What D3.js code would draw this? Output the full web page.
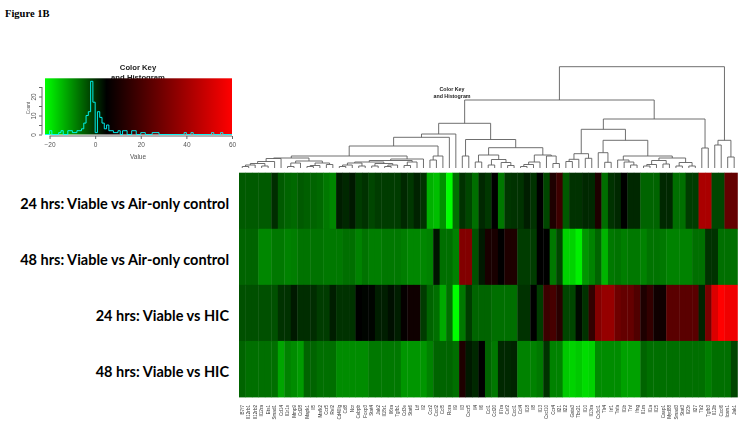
<!DOCTYPE html>
<html>
<head>
<meta charset="utf-8">
<script src="https://cdn.jsdelivr.net/npm/d3@7"></script>
<style>
html,body{margin:0;padding:0;background:#fff}
svg{display:block}
</style>
</head>
<body>
<svg id="chart" width="745" height="434"></svg>
<script>
const rowLabels = ["24 hrs: Viable vs Air-only control","48 hrs: Viable vs Air-only control","24 hrs: Viable vs HIC","48 hrs: Viable vs HIC"];
const geneLabels = ["B7f7","Il12rb1","Il12rb2","Il12ra","Ets1","Smad1","Cd14","Il1r1s","Mmp9","Cd28","Mapk1","Il5","Mafk2","Ccr5","Rel2","Cd40lg","Cd8","Ncr","Cebpb","Foxp3","Stat4","Jak2","Il18r1","Il6ra","Tgfb1","Cd3e","Stat6","Ltf","Il2","Ccr2","Cxcl2","Ccl5","Rora","Il9","Il3","Cxcr5","Il4","Il6","Ccl1","Ccl20","Il7ra","Csf2","Cxcl1","Ccl4","Il18","Il8","Il13","Cxcl10","Ccr4","Il21","Il22","Gata3","Tbx21","Il10","Il13ra","Cx3cl1","Tlr4","Irf1","Tnfa","Il1b","Tnf","Ifng","Il1rn","Il1a","Il15","Casp1","Myd88","Smad3","Stat3","Il23r","Il27","Tlr2","Tgfb3","Il12b","Cxcl6","Icam1","Jak1"];

const row1 = [-4.5,-4.5,-4.5,-4.5,-4.5,0.2,-4.5,-5.6,-6.1,-4.5,-5.1,-5.6,-6.1,-7.7,-9.3,1.8,0.8,2.4,-1.4,-0.3,-2.4,-1.4,-1.4,-1.4,-1.4,0.8,-0.8,1.3,-0.3,-13.6,-15.1,-10.4,-22,-6.7,-0.3,-2.4,-6.7,0.8,-0.8,5,-7.7,-0.8,-0.3,-0.3,1.8,-0.3,5,-2.4,11.5,17.9,-4.5,-0.3,-0.3,0.8,0.8,11.5,-6.7,-0.3,0.8,5,0.8,0.8,-5.6,-5.6,-5.6,0.8,0.8,-6.7,-6.7,-1.4,-1.4,41.7,41.7,-2.4,-2.4,26.6,26.6];
const row2 = [-5.6,-5.6,-5.6,-9.3,-9.3,-7.7,-7.7,-8.8,-8.3,-7.2,-7.2,-7.2,-7.2,-7.7,-7.7,-7.7,-6.7,-6.7,-8.8,-7.2,-8.3,-8.3,-7.7,-7.7,-7.7,-8.3,-9.3,-9.3,-9.3,-8.8,2.9,-6.7,-6.7,-8.8,33,33,-3.5,2.4,10.4,10.4,5,11.5,11.5,-1.4,-1.4,-1.4,5,5,-7.7,-2.4,-17.3,-17.3,-20.4,-10.9,-8.8,-5.6,-14.1,-7.7,-7.2,-8.3,-7.7,-7.7,-8.8,-7.2,-7.2,-7.7,-8.8,-8.8,-8.8,-8.8,-6.7,-6.7,-0.3,-0.3,-6.7,-6.7,-6.7];
const row3 = [-3.5,-3.5,-3.5,-3.5,-3.5,-3.5,-0.3,-0.3,2.4,0.2,0.2,0.2,-1.4,-1.4,1.8,-0.3,-0.3,-0.3,5,4.5,4.5,1.8,1.8,3.4,1.8,6,8.2,8.2,-1.4,-5.6,-6.7,-13,-6.7,-22,-7.7,-1.4,-5.6,-5.6,-5.6,-6.7,-6.7,-6.7,-6.7,-0.3,-0.3,5,-1.4,17.9,20.1,13.6,-2.4,-2.4,3.9,-0.3,15.8,33,37.4,37.4,28.8,26.6,26.6,22.3,11.5,15.8,8.2,8.2,24.4,24.4,24.4,24.4,24.4,1.3,30.9,52.5,60,56.8,56.8];
const row4 = [-5.6,-6.7,-6.7,-6.7,-6.7,-6.7,-12.5,-8.8,-9.8,-11.4,-5.6,-5.6,-6.7,-6.7,-6.7,-9.8,-9.8,-9.8,-9.8,-9.8,-7.7,-7.7,-7.7,-7.7,-7.7,-10.9,-10.9,-10.9,-10.9,-8.8,-5.6,-5.6,-5.6,-6.7,11.5,2.4,0.8,5,-5.6,-7.7,0.8,0.8,1.3,-8.8,-8.8,-8.8,-7.7,-0.3,-8.8,-8.8,-16.3,-17.3,-16.3,-18.3,-17.3,-9.8,-9.8,-9.8,-9.8,-12,-12,-12,-5.6,-6.7,-6.7,-6.7,-6.7,-6.7,-6.7,-6.7,-6.7,-6.7,-8.3,-6.7,-6.7,-6.7,-2.4];
const rows = [row1,row2,row3,row4];

const histEdges =  [-22,-20,-19,-16,-15,-14,-12,-10,-8,-6,-5,-4,-3,-2,-1,0,1,2,3,4,5,6,8,10,11,12,14,16,18,20,22,25,28,39,40,42,43,51,52,55,56,60];
const histCounts = [0,2,0,1,2,0,2,1,2,3,6,10,12,28,17,1,12,9,6,3,5,2,1,2,0,2,0,2,0,1,0,1,0,1,0,1,0,1,0,1,0,0];
const keyTicks = [-20,0,20,40,60];
const countTicks = [0,5,10,15,20,25];
const countLabels = [0,10,20];

// merge tree: [merge height, left, right]; numbers are leaf positions
const c1 = [9.5,[6.5,[4.5,[3,[1.5,0,1],2],[2,3,4]],5],6];
const c2 = [7,[5,[1.5,7,8],9],[5,[2.5,[1.5,10,11],12],[3.5,13,14]]];
const b1 = [5,[3,[1.5,15,16],17],[2,18,19]];
const b2 = [4.5,[2,20,21],[3,[1.5,22,23],24]];
const b3 = [6,[2.5,25,26],27];
const leftArm = [34,[30.7,[22,[12,[10,c1,c2],[9,[7.5,[6,b1,b2],b3],28]],[12,[8,29,30],31]],32],33];
const pArm = [13,[6,36,37],[8.5,[3,38,39],[5.5,40,[2.5,41,42]]]];
const qArm = [13,[6,[3.5,[1.5,43,44],45],46],[12,47,[4.5,48,49]]];
const midArm = [28.5,[12,34,35],[20.3,pArm,qArm]];
const tArm = [14.3,[8.7,[6.5,50,51],52],[9.7,53,54]];
const mArm = [10,[7.5,[3.5,[2,62,63],64],[4,65,66]],[5.5,[2,67,68],[2,69,70]]];
const uArm = [27.7,[15.3,55,[5.7,56,57]],[12,[8,58,[6,59,[3,60,61]]],mArm]];
const rightArm = [49,[38.7,tArm,uArm],[20,71,72]];
const outerArm = [27.7,[23,73,74],[11,75,76]];
const tree = [101.3,[68,[44.7,leftArm,midArm],rightArm],outerArm];

const svg = d3.select("#chart");
const colorStops = [-22,5,60];
const color = d3.scaleLinear().domain(colorStops).range(["#00ff00","#000000","#ff0000"]);

// Page label
svg.append("text").attr("x",5).attr("y",16.5).attr("font-family","'Liberation Serif',serif")
  .attr("font-weight","bold").attr("font-size",10.5).attr("fill","#000").text("Figure 1B");

// Heatmap
const x = d3.scaleBand().domain(d3.range(row1.length)).range([239,737.4]);
const y = d3.scaleBand().domain(d3.range(rows.length)).range([172.7,397]);
const heat = svg.append("g").style("filter","blur(0.5px)");
rows.forEach((r,ri)=>{
  heat.selectAll(null).data(r).join("rect")
    .attr("x",(d,i)=>x(i)).attr("y",y(ri))
    .attr("width",x.bandwidth()+0.4).attr("height",y.bandwidth()+0.4)
    .attr("fill",d=>color(d));
});

// Row labels
svg.append("g").selectAll("text").data(rowLabels).join("text")
  .attr("x",229).attr("y",(d,i)=>y(i)+y.bandwidth()/2+8)
  .attr("text-anchor","end").attr("font-family","Lato,sans-serif")
  .attr("font-weight","bold").attr("font-size",14.5).attr("fill","#000").text(d=>d);

// Column labels
svg.append("g").style("filter","blur(0.3px)").selectAll("text").data(geneLabels).join("text")
  .attr("transform",(d,i)=>`translate(${x(i)+x.bandwidth()/2+1.6},405) rotate(-90)`)
  .attr("text-anchor","end").attr("font-family","'Liberation Sans',Arial,sans-serif")
  .attr("font-size",4.6).attr("fill","#333").text(d=>d);

// Dendrogram
const h = d3.scaleLinear().domain([0,100]).range([168,68]);
const root = d3.hierarchy(tree,d=>Array.isArray(d)?d.slice(1):null);
root.eachAfter(n=>{
  if(n.children){
    n.px = (n.children[0].px+n.children[1].px)/2;
    n.py = h(n.data[0]);
  } else {
    n.px = x(n.data)+x.bandwidth()/2;
    n.py = h(0);
  }
});
const dp = d3.path();
root.each(n=>{
  if(!n.children) return;
  const [a,b] = n.children;
  dp.moveTo(a.px,a.py); dp.lineTo(a.px,n.py); dp.lineTo(b.px,n.py); dp.lineTo(b.px,b.py);
});
svg.append("path").attr("d",dp.toString()).attr("fill","none").attr("stroke","#5f5f5f").attr("stroke-width",0.9);

// Small inner title
const inner = svg.append("g").attr("font-family","'Liberation Sans',Arial,sans-serif").attr("font-weight","bold")
  .attr("font-size",5.3).attr("fill","#222").attr("text-anchor","middle").style("filter","blur(0.2px)");
inner.append("text").attr("x",452).attr("y",91).text("Color Key");
inner.append("text").attr("x",452).attr("y",97.8).text("and Histogram");

// Colour key
const keyX = d3.scaleLinear().domain([-22,60]).range([45,232]);
const keyY = d3.scaleLinear().domain([0,25]).range([134.5,87]);
const grad = svg.append("defs").append("linearGradient").attr("id","keyGrad");
grad.selectAll("stop").data(colorStops).join("stop")
  .attr("offset",d=>(d+22)/82).attr("stop-color",d=>color(d));
const key = svg.append("g").style("filter","blur(0.4px)");
const titleG = key.append("g").attr("font-family","'Liberation Sans',Arial,sans-serif").attr("font-weight","bold")
  .attr("font-size",7.7).attr("fill","#222").attr("text-anchor","middle");
titleG.append("text").attr("x",138).attr("y",69.5).text("Color Key");
titleG.append("text").attr("x",138).attr("y",79.5).text("and Histogram");
key.append("rect").attr("x",keyX(-22)).attr("y",78.3).attr("width",keyX(60)-keyX(-22)).attr("height",56.2)
  .attr("fill","url(#keyGrad)");
const stepLine = d3.line().x(d=>keyX(d[0])).y(d=>keyY(d[1])).curve(d3.curveStepAfter);
key.append("path").datum(histEdges.map((e,i)=>[e,histCounts[i]]))
  .attr("d",stepLine).attr("fill","none").attr("stroke","#00ffff").attr("stroke-width",0.9);
const ax = key.append("g").attr("transform","translate(0,136)")
  .call(d3.axisBottom(keyX).tickValues(keyTicks).tickSize(3).tickPadding(3));
ax.select(".domain").attr("d",`M${keyX(-20)},0H${keyX(60)}`).attr("stroke","#666");
ax.selectAll("line").attr("stroke","#666");
ax.selectAll("text").attr("font-family","'Liberation Sans',Arial,sans-serif").attr("font-size",6.5).attr("fill","#555");
const ay = key.append("g").attr("transform","translate(42,0)")
  .call(d3.axisLeft(keyY).tickValues(countTicks).tickSize(3).tickFormat(d=>countLabels.includes(d)?d:""));
ay.select(".domain").attr("d",`M0,${keyY(0)}V${keyY(25)}`).attr("stroke","#666");
ay.selectAll("line").attr("stroke","#666");
ay.selectAll("text").attr("font-family","'Liberation Sans',Arial,sans-serif").attr("font-size",6.5).attr("fill","#555")
  .attr("text-anchor","middle").attr("dy",0).attr("x",-6).attr("y",0).attr("transform","rotate(-90 -6 0)");
key.append("text").attr("x",138).attr("y",159).attr("text-anchor","middle")
  .attr("font-family","'Liberation Sans',Arial,sans-serif").attr("font-size",6.5).attr("fill","#555").text("Value");
key.append("text").attr("transform","translate(29.5,108) rotate(-90)").attr("text-anchor","middle")
  .attr("font-family","'Liberation Sans',Arial,sans-serif").attr("font-size",4.6).attr("fill","#555").text("Count");
</script>
</body>
</html>
